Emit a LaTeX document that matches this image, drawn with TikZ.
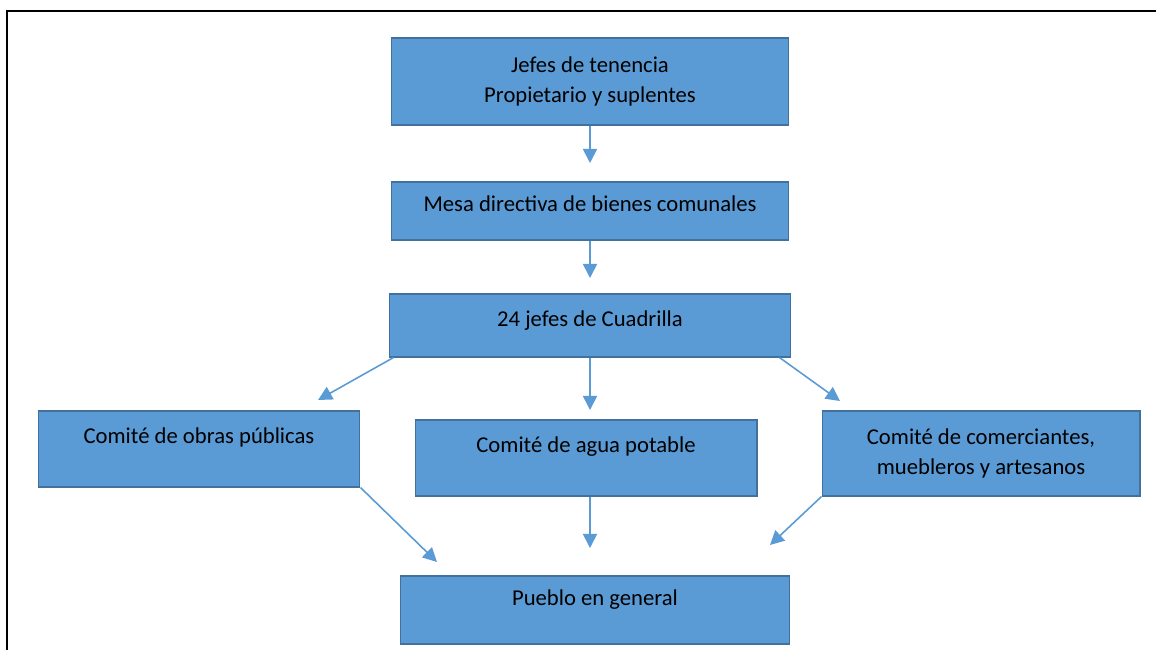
\documentclass[tikz,border=0pt]{standalone}
\usepackage{fontspec}
\setmainfont{Carlito}
\usepackage{tikz}
\usetikzlibrary{arrows.meta}
\definecolor{cajaazul}{HTML}{5B9BD5}
\definecolor{bordeazul}{HTML}{41719C}

\begin{document}
\begin{tikzpicture}[x=0.02cm, y=-0.02cm,
	caja/.style={draw=bordeazul, fill=cajaazul, line width=0.6pt, align=center, inner sep=0pt, font=\fontsize{12.9}{17.5}\selectfont},
	sube/.style={text height=9pt, text depth=#1},
	flecha/.style={color=cajaazul, line width=0.9pt, -{Triangle[width=8pt,length=8pt]}}]
	\useasboundingbox (0,0) rectangle (1156,650);
	\draw[line width=1.2pt] (7,650) -- (7,11) -- (1156,11);
	\node[caja, minimum width=7.94cm, minimum height=1.74cm] (jefes) at (590,81.5) {Jefes de tenencia\\Propietario y suplentes};
	\node[caja, sube=8.3pt, minimum width=7.94cm, minimum height=1.16cm] (mesa) at (590,211) {Mesa directiva de bienes comunales};
	\node[caja, sube=8.3pt, minimum width=8.04cm, minimum height=1.26cm] (cuadrilla) at (590,325.5) {24 jefes de Cuadrilla};
	\node[caja, sube=15pt, minimum width=6.44cm, minimum height=1.52cm] (obras) at (199,449) {Comité de obras públicas};
	\node[caja, sube=15pt, minimum width=6.84cm, minimum height=1.52cm] (agua) at (586,458) {Comité de agua potable};
	\node[caja, minimum width=6.36cm, minimum height=1.70cm] (comerciantes) at (981,453.5) {Comité de comerciantes,\\muebleros y artesanos};
	\node[caja, sube=13.8pt, minimum width=7.80cm, minimum height=1.36cm] (pueblo) at (595,610) {Pueblo en general};
	\coordinate (t1) at (590,163);
	\coordinate (t2) at (590,278);
	\coordinate (t3) at (590,410);
	\coordinate (t4) at (318,400);
	\coordinate (t5) at (840,401);
	\coordinate (t6) at (437,562);
	\coordinate (t7) at (590,548);
	\coordinate (t8) at (770,545);
	\path
	(jefes) edge[flecha] (t1)
	(mesa) edge[flecha] (t2)
	(cuadrilla) edge[flecha] (t3)
	([xshift=0.1cm]cuadrilla.south west) edge[flecha] (t4)
	([xshift=-0.24cm]cuadrilla.south east) edge[flecha] (t5)
	(obras.south east) edge[flecha] (t6)
	(agua.south -| t7) edge[flecha] (t7)
	(comerciantes.south west) edge[flecha] (t8);
\end{tikzpicture}
\end{document}
